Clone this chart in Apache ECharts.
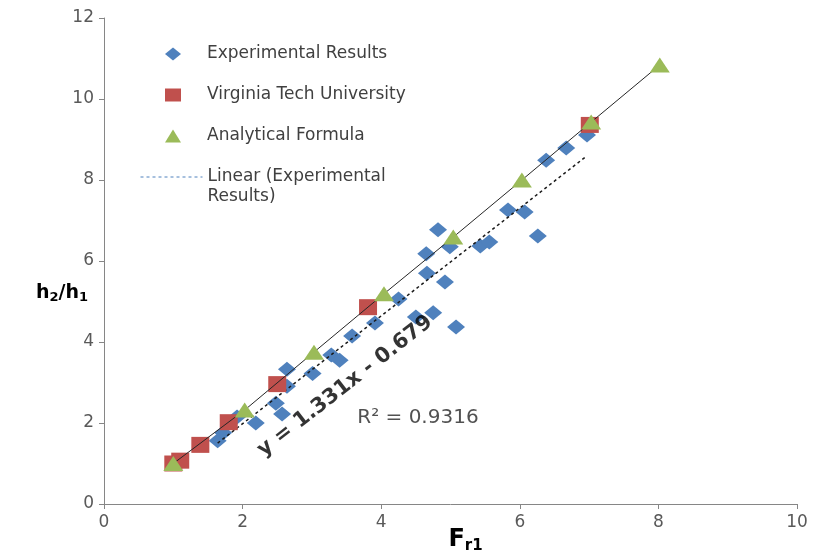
<!DOCTYPE html>
<html>
<head>
<meta charset="utf-8">
<script src="https://cdn.jsdelivr.net/npm/echarts@6/dist/echarts.min.js"></script>
<style>
  html, body { margin: 0; padding: 0; background: #fff; }
  #chart { width: 813px; height: 554px; }
</style>
</head>
<body>
<div id="chart"></div>
<script>
// Axis ticks
const xTicks = [0, 2, 4, 6, 8, 10];
const yTicks = [0, 2, 4, 6, 8, 10, 12];

// Experimental results: [Fr1, h2/h1]
const experimental = [
  [1.64, 1.56], [1.72, 1.76], [1.92, 2.15], [2.19, 2.00], [2.48, 2.49],
  [2.57, 2.22], [2.64, 2.91], [2.64, 3.33], [3.01, 3.22], [3.28, 3.68],
  [3.40, 3.55], [3.58, 4.15], [3.91, 4.47], [4.25, 5.06], [4.50, 4.62],
  [4.75, 4.72], [5.08, 4.37], [4.66, 5.70], [4.92, 5.48], [4.65, 6.18],
  [4.82, 6.77], [4.99, 6.35], [5.43, 6.37], [5.56, 6.47], [6.26, 6.62],
  [5.83, 7.26], [6.07, 7.21], [6.38, 8.49], [6.67, 8.79], [6.97, 9.11]
];

// Virginia Tech University data
const virginiaTech = [
  [1.00, 1.00], [1.10, 1.07], [1.39, 1.46], [1.80, 2.02],
  [2.50, 2.96], [3.81, 4.86], [7.01, 9.36]
];

// Analytical formula values
const analytical = [
  [1.00, 1.00], [2.03, 2.32], [3.03, 3.75], [4.04, 5.19],
  [5.04, 6.59], [6.03, 8.00], [7.03, 9.43], [8.02, 10.84]
];

// Linear trendline of the experimental results
const trendSlope = 1.331;
const trendIntercept = -0.679;
const trendR2 = 0.9316;

const names = {
  exp: 'Experimental Results',
  vt: 'Virginia Tech University',
  ana: 'Analytical Formula',
  lin: 'Linear (Experimental Results)'
};

const expX = experimental.map(p => p[0]);
const xLo = Math.min(...expX), xHi = Math.max(...expX);
const trendData = [xLo, xHi].map(x => [x, trendSlope * x + trendIntercept]);

const eqText = 'y = ' + trendSlope + 'x - ' + Math.abs(trendIntercept);
const r2Text = 'R² = ' + trendR2;

const FONT = 'DejaVu Sans';
const legendText = { fontFamily: FONT, fontSize: 17, lineHeight: 20, color: '#404040' };

const chart = echarts.init(document.getElementById('chart'), null, { renderer: 'canvas' });

chart.setOption({
  animation: false,
  backgroundColor: '#ffffff',
  textStyle: { fontFamily: FONT },
  grid: { left: 104, right: 16, top: 18, bottom: 50, outerBoundsMode: 'none', containLabel: false },
  legend: [
    {
      // marker entries
      orient: 'vertical',
      left: 160,
      top: 39,
      itemWidth: 16,
      itemHeight: 13,
      itemGap: 21,
      textStyle: Object.assign({ padding: [0, 0, 0, 21] }, legendText),
      data: [
        { name: names.exp, icon: 'diamond' },
        { name: names.vt, icon: 'rect' },
        { name: names.ana, icon: 'triangle' }
      ]
    },
    {
      // trendline entry; the blank first line keeps the dashed sample beside the first text line
      orient: 'vertical',
      left: 135,
      top: 142,
      itemWidth: 62,
      itemHeight: 14,
      textStyle: Object.assign({ padding: [0, 0, 0, 0] }, legendText),
      formatter: () => ' \nLinear (Experimental\nResults)',
      data: [
        { name: names.lin, itemStyle: { opacity: 0 }, lineStyle: { color: '#4F81BD', type: [3, 3], width: 1 } }
      ]
    }
  ],
  xAxis: {
    type: 'value',
    min: xTicks[0], max: xTicks[xTicks.length - 1], interval: 2,
    name: 'F{sub|r1}',
    nameLocation: 'middle',
    nameGap: 21,
    nameMoveOverlap: false,
    nameTextStyle: {
      fontFamily: FONT, fontSize: 24, fontWeight: 'bold', color: '#000',
      padding: [0, 0, 0, 30],
      rich: { sub: { fontFamily: FONT, fontSize: 15, fontWeight: 'bold', color: '#000', padding: [14, 0, 0, 0] } }
    },
    axisLine: { lineStyle: { color: '#868686', width: 1 } },
    axisTick: { show: true, inside: false, length: 5, lineStyle: { color: '#868686' } },
    axisLabel: { fontFamily: FONT, fontSize: 17, color: '#595959', margin: 10 },
    splitLine: { show: false }
  },
  yAxis: {
    type: 'value',
    min: yTicks[0], max: yTicks[yTicks.length - 1], interval: 2,
    name: 'h{sub|2}/h{sub|1}',
    nameLocation: 'middle',
    nameRotate: 0,
    nameGap: 16,
    nameMoveOverlap: false,
    nameTextStyle: {
      fontFamily: FONT, fontSize: 19, fontWeight: 'bold', color: '#000',
      padding: [64, 0, 0, 0],
      rich: { sub: { fontFamily: FONT, fontSize: 13, fontWeight: 'bold', color: '#000', padding: [9, 0, 0, 0] } }
    },
    axisLine: { show: true, lineStyle: { color: '#868686', width: 1 } },
    axisTick: { show: true, inside: false, length: 5, lineStyle: { color: '#868686' } },
    axisLabel: { fontFamily: FONT, fontSize: 17, color: '#595959', margin: 10 },
    splitLine: { show: false }
  },
  series: [
    {
      name: names.exp,
      type: 'scatter',
      symbol: 'diamond',
      symbolSize: [18, 15],
      itemStyle: { color: '#4F81BD', opacity: 1 },
      data: experimental,
      z: 2
    },
    {
      name: names.lin,
      type: 'line',
      symbol: 'none',
      lineStyle: { color: '#1a1a1a', width: 1.5, type: [3, 3] },
      itemStyle: { color: '#4F81BD' },
      data: trendData,
      z: 3
    },
    {
      name: names.vt,
      type: 'scatter',
      symbol: 'rect',
      symbolSize: [18, 16],
      itemStyle: { color: '#C0504D', opacity: 1 },
      data: virginiaTech,
      z: 4
    },
    {
      name: names.ana,
      type: 'line',
      symbol: 'triangle',
      symbolSize: [20, 15],
      showAllSymbol: true,
      lineStyle: { color: '#262626', width: 1 },
      itemStyle: { color: '#9BBB59', opacity: 1 },
      data: analytical,
      z: 5
    },
    {
      // trendline equation and goodness of fit
      type: 'scatter',
      symbolSize: 0,
      silent: true,
      z: 6,
      data: [
        {
          value: [3.48, 2.91],
          label: {
            show: true, position: 'inside', rotate: 38,
            formatter: eqText,
            fontFamily: FONT, fontSize: 21, fontWeight: 'bold', color: '#000'
          }
        },
        {
          value: [4.53, 2.12],
          label: {
            show: true, position: 'inside',
            formatter: r2Text,
            fontFamily: FONT, fontSize: 20, color: '#262626'
          }
        }
      ]
    }
  ]
});
</script>
</body>
</html>
